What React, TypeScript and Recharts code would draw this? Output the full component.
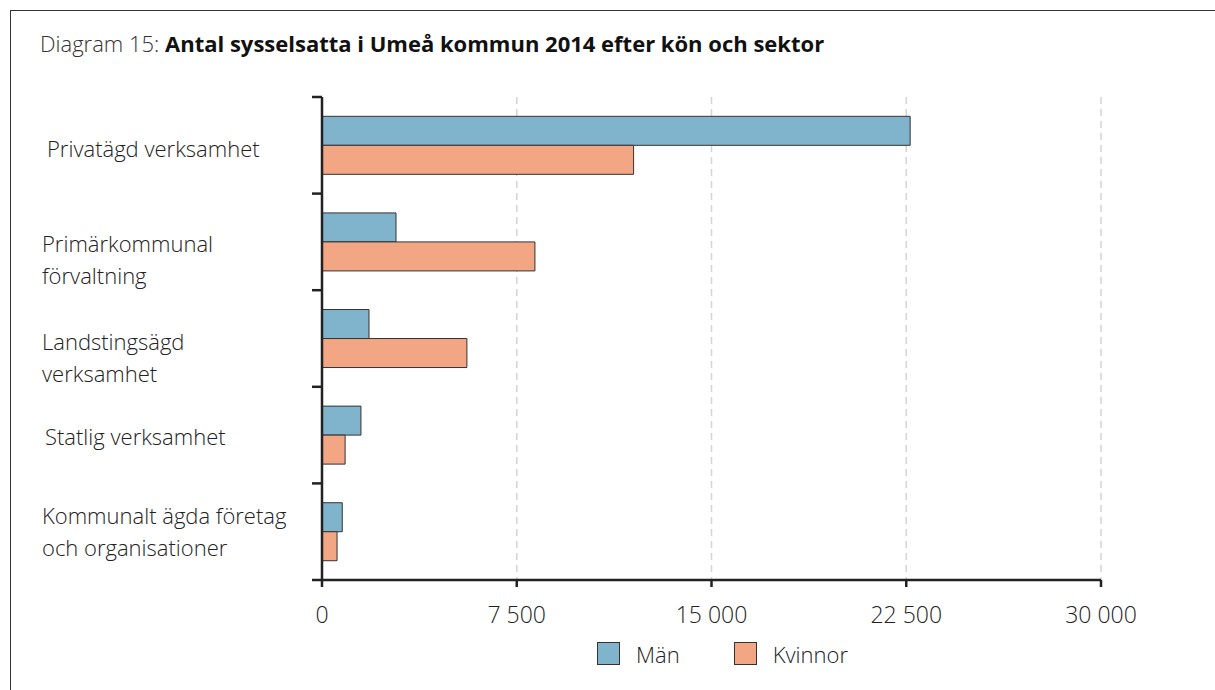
import { BarChart, Bar, XAxis, YAxis, CartesianGrid } from "recharts";

const sectors = [
  "Privatägd verksamhet",
  "Primärkommunal förvaltning",
  "Landstingsägd verksamhet",
  "Statlig verksamhet",
  "Kommunalt ägda företag och organisationer",
];
const sectorLines = [
  ["Privatägd verksamhet"],
  ["Primärkommunal", "förvaltning"],
  ["Landstingsägd", "verksamhet"],
  ["Statlig verksamhet"],
  ["Kommunalt ägda företag", "och organisationer"],
];
const man = [22650, 2850, 1810, 1500, 780];
const kvinnor = [12000, 8200, 5580, 890, 580];
const xTicks = [0, 7500, 15000, 22500, 30000];

const BLUE = "#80b3cc";
const SALMON = "#f2a683";
const INK = "#222";
const FONT = "'Open Sans', sans-serif";

// label tweaks, per row (baseline of first line relative to band centre)
const labelX = [47, 42, 42, 45, 42];
const labelDy = [12, 10, 11, 10, -8];

const W = 1215;
const H = 690;
const X_AXIS_H = 30;
const margin = { top: 97, right: 114, bottom: 110 - X_AXIS_H, left: 0 };
const bandHalf = (H - margin.top - margin.bottom - X_AXIS_H) / sectors.length / 2;

const data = sectors.map((s, i) => ({ sector: s, man: man[i], kvinnor: kvinnor[i] }));

const fmt = (v: number) => String(v).replace(/\B(?=(\d{3})+(?!\d))/g, " ");

const SectorTick = (props: any) => {
  const { y, index } = props;
  const lines = sectorLines[index] ?? [];
  const axisX = 322;
  return (
    <g>
      <line x1={axisX - 10} x2={axisX} y1={y - bandHalf} y2={y - bandHalf} stroke={INK} strokeWidth={2.5} />
      {index === sectors.length - 1 && (
        <line x1={axisX - 10} x2={axisX} y1={y + bandHalf} y2={y + bandHalf} stroke={INK} strokeWidth={2.5} />
      )}
      <text x={labelX[index]} y={y + labelDy[index]} fill={INK} fontSize={22} fontWeight={300} fontFamily={FONT} textAnchor="start">
        {lines.map((l, k) => (
          <tspan key={k} x={labelX[index]} dy={k === 0 ? 0 : 32}>
            {l}
          </tspan>
        ))}
      </text>
    </g>
  );
};

const legendItems = [
  { name: "Män", color: BLUE },
  { name: "Kvinnor", color: SALMON },
];

export default function App() {
  return (
    <div style={{ position: "absolute", left: 0, top: 0, width: W, height: H, background: "#fff", overflow: "hidden" }}>
      <div
        style={{
          position: "absolute",
          left: 10,
          top: 10,
          width: W,
          height: H,
          borderTop: "1.5px solid #333",
          borderLeft: "1.5px solid #333",
        }}
      />
      <div
        style={{
          position: "absolute",
          left: 40,
          top: 28,
          fontFamily: FONT,
          fontSize: 22,
          fontWeight: 300,
          color: "#333",
          whiteSpace: "nowrap",
        }}
      >
        Diagram 15: <b style={{ color: "#111", fontWeight: 700 }}>Antal sysselsatta i Umeå kommun 2014 efter kön och sektor</b>
      </div>
      <div style={{ position: "absolute", left: 0, top: 0 }}>
        <BarChart width={W} height={H} data={data} layout="vertical" margin={margin} barCategoryGap="20%" barGap={0}>
          <CartesianGrid horizontal={false} stroke="#d4d4d4" strokeDasharray="7 5" strokeWidth={1.5} />
          <XAxis
            type="number"
            domain={[0, 30000]}
            ticks={xTicks}
            tickFormatter={fmt}
            height={X_AXIS_H}
            axisLine={{ stroke: INK, strokeWidth: 2.5 }}
            tickLine={{ stroke: INK, strokeWidth: 2.5 }}
            tickSize={7}
            tickMargin={20}
            tick={{ fill: INK, fontSize: 23, fontWeight: 300, fontFamily: FONT }}
            interval={0}
          />
          <YAxis
            type="category"
            dataKey="sector"
            width={322}
            axisLine={{ stroke: INK, strokeWidth: 2.5 }}
            tickLine={false}
            tick={<SectorTick />}
            interval={0}
          />
          <Bar dataKey="man" name="Män" fill={BLUE} stroke="#333" strokeWidth={1} isAnimationActive={false} />
          <Bar dataKey="kvinnor" name="Kvinnor" fill={SALMON} stroke="#333" strokeWidth={1} isAnimationActive={false} />
        </BarChart>
      </div>
      <div
        style={{
          position: "absolute",
          left: 597,
          top: 642,
          display: "flex",
          alignItems: "center",
          fontFamily: FONT,
          fontSize: 22,
          fontWeight: 300,
          color: INK,
        }}
      >
        {legendItems.map((it, i) => (
          <div key={it.name} style={{ display: "flex", alignItems: "center", marginLeft: i === 0 ? 0 : 54 }}>
            <span style={{ width: 21, height: 21, background: it.color, border: "1px solid #333", display: "inline-block" }} />
            <span style={{ marginLeft: 16, lineHeight: "22px" }}>{it.name}</span>
          </div>
        ))}
      </div>
    </div>
  );
}
